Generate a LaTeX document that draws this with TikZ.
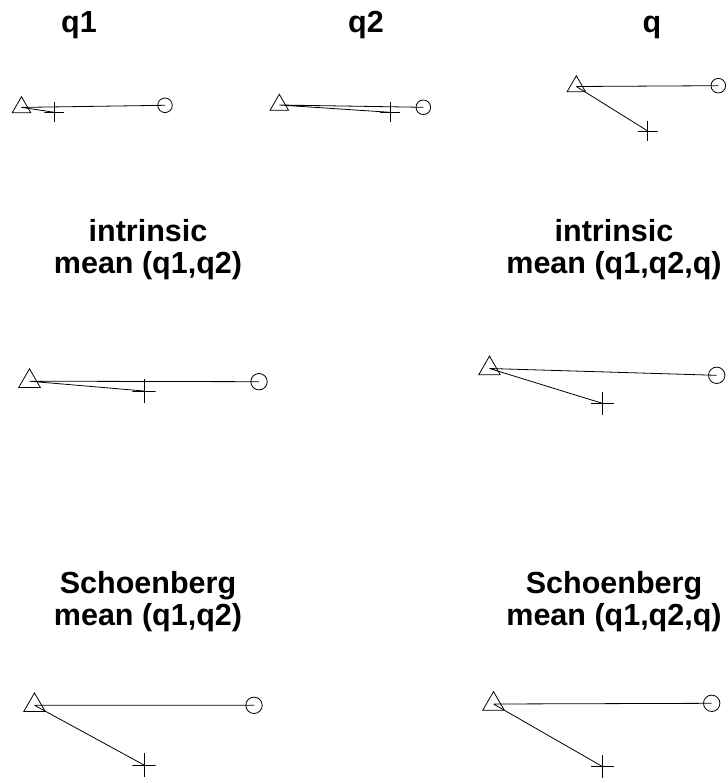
\documentclass[tikz,border=0pt]{standalone}
\usepackage{fontspec}
\setmainfont{Liberation Sans}
\usetikzlibrary{shapes.geometric}

\begin{document}
\begin{tikzpicture}[x=1pt, y=-1pt, line width=0.8pt,
    tri/.style={draw, regular polygon, regular polygon sides=3, minimum size=#1, inner sep=0pt},
    tri/.default=21.4pt,
    circ/.style={draw, circle, minimum size=#1, inner sep=0pt},
    circ/.default=14.6pt,
    plus/.style={minimum size=#1, inner sep=0pt, path picture={
        \draw (path picture bounding box.north) -- (path picture bounding box.south)
              (path picture bounding box.west) -- (path picture bounding box.east);}},
    plus/.default=20pt,
    ttl/.style={font=\bfseries\fontsize{30.5}{31.6}\selectfont, align=center, anchor=base},
]
\useasboundingbox (0,0) rectangle (727,783);

% Top row: the three configurations
% 1. q1
\node[ttl] (h1) at (79,33) {q1};
\node[tri] (t1) at (21.5,107.4) {};
\node[circ] (c1) at (165,105.3) {};
\node[plus] (p1) at (54.3,112.3) {};
\draw (t1.center) -- (c1.center) (t1.center) -- (p1.center);

% 2. q2
\node[ttl] (h2) at (366,33) {q2};
\node[tri] (t2) at (279.3,105) {};
\node[circ] (c2) at (423.3,107.3) {};
\node[plus] (p2) at (390,112.3) {};
\draw (t2.center) -- (c2.center) (t2.center) -- (p2.center);

% 3. q
\node[ttl] (h3) at (652,33) {q};
\node[tri] (t3) at (576.3,86.5) {};
\node[circ] (c3) at (718.3,85.7) {};
\node[plus] (p3) at (647.7,131) {};
\draw (t3.center) -- (c3.center) (t3.center) -- (p3.center);

% Middle row: intrinsic means (anchor on the last line)
% 4. of q1 and q2
\node[ttl] (h4) at (148,273.5) {intrinsic\\mean (q1,q2)};
\node[tri=24.8pt] (t4) at (29.5,381.2) {};
\node[circ=16.4pt] (c4) at (259,381.7) {};
\node[plus=23.4pt] (p4) at (144,391) {};
\draw (t4.center) -- (c4.center) (t4.center) -- (p4.center);

% 5. of q1, q2 and q
\node[ttl] (h5) at (614,273.5) {intrinsic\\mean (q1,q2,q)};
\node[tri=24.8pt] (t5) at (489.5,368.5) {};
\node[circ=16.4pt] (c5) at (716.7,375.3) {};
\node[plus=23.4pt] (p5) at (602.3,403.3) {};
\draw (t5.center) -- (c5.center) (t5.center) -- (p5.center);

% Bottom row: Schoenberg means
% 6. of q1 and q2
\node[ttl] (h6) at (148,625.5) {Schoenberg\\mean (q1,q2)};
\node[tri=24.8pt] (t6) at (34.5,705.3) {};
\node[circ=16.4pt] (c6) at (254,705.3) {};
\node[plus=23.4pt] (p6) at (144,765) {};
\draw (t6.center) -- (c6.center) (t6.center) -- (p6.center);

% 7. of q1, q2 and q
\node[ttl] (h7) at (614,625.5) {Schoenberg\\mean (q1,q2,q)};
\node[tri=24.8pt] (t7) at (493.5,704) {};
\node[circ=16.4pt] (c7) at (711.7,703.3) {};
\node[plus=23.4pt] (p7) at (602.7,766.7) {};
\draw (t7.center) -- (c7.center) (t7.center) -- (p7.center);
\end{tikzpicture}
\end{document}
